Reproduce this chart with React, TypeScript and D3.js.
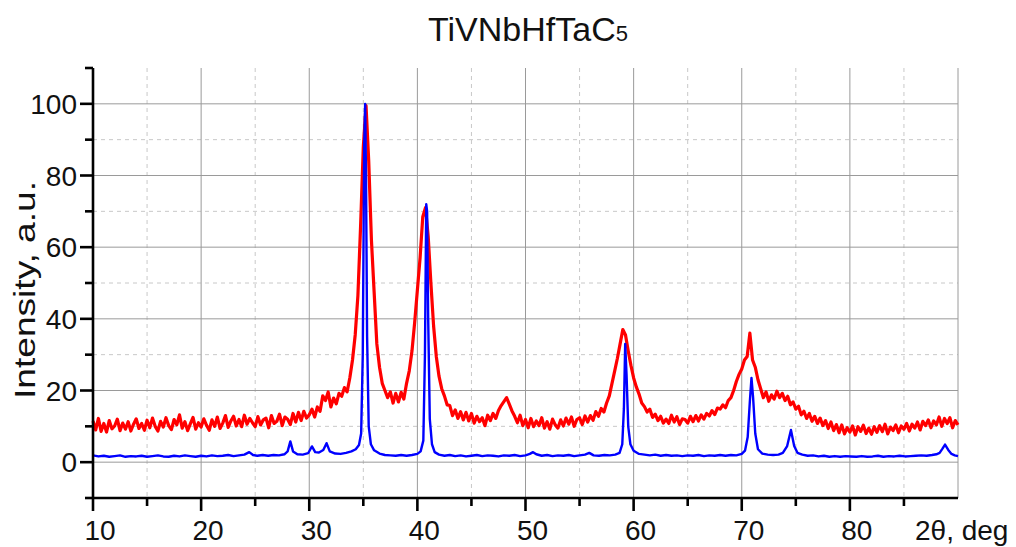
import React from 'react';
import * as d3 from 'd3';

const WIDTH = 1016;
const HEIGHT = 547;
const LEFT = 93;
const RIGHT = 958;
const TOP = 68;
const BOTTOM = 498;
const FONT = '"Liberation Sans", Arial, Helvetica, sans-serif';

const TITLE = 'TiVNbHfTaC';
const TITLE_SUB = '5';
const Y_LABEL = 'Intensity, a.u.';
const X_LABEL = '2θ, deg';

const xMajorTicks = [10, 20, 30, 40, 50, 60, 70, 80];
const xMinorTicks = [15, 25, 35, 45, 55, 65, 75, 85];
const yMajorTicks = [0, 20, 40, 60, 80, 100];
const yMinorTicks = [-10, 10, 30, 50, 70, 90, 110];

// red curve: sampled every 0.25 deg from 10 to 90
const redStart = 10;
const redStep = 0.25;
const redValues = [
  11.5, 9.0, 12.2, 8.6,
  10.8, 8.4, 11.6, 9.3,
  10.1, 12.0, 8.8, 10.9,
  9.2, 11.3, 8.7, 10.6,
  12.1, 9.4, 10.8, 8.9,
  11.7, 9.6, 12.3, 10.0,
  8.7, 11.4, 9.8, 12.4,
  10.2, 9.1, 11.9, 10.4,
  13.2, 9.5, 11.3, 8.8,
  10.7, 12.5, 9.2, 11.0,
  9.8, 12.1, 10.3, 8.9,
  11.8, 10.0, 12.6, 9.4,
  10.9, 13.0, 9.7, 11.5,
  12.8, 10.1, 11.9, 9.9,
  13.1, 10.6, 12.2, 11.0,
  9.9, 12.7, 10.4, 11.8,
  12.3, 9.6, 13.0, 10.8,
  11.4, 13.4, 10.2, 12.6,
  12.0, 10.5, 13.6, 11.2,
  13.9, 11.6, 14.2, 12.3,
  13.2, 14.8, 12.6, 15.4,
  14.2, 18.5, 17.2, 19.6,
  15.4, 17.9, 16.3, 19.2,
  18.4, 20.8, 19.6, 23.5,
  28.5, 35.5, 46.5, 66.0,
  88.0, 99.5, 84.0, 62.0,
  47.5, 33.0, 26.5, 22.0,
  20.0, 18.0, 19.6, 16.5,
  19.2, 16.8, 19.5, 17.6,
  22.0, 25.5, 31.0, 39.0,
  48.0, 57.0, 68.5, 71.0,
  63.0, 50.0, 38.0, 29.5,
  24.0, 20.5, 18.5, 16.0,
  15.8, 13.0, 14.6, 12.2,
  14.1, 11.8, 13.9, 11.5,
  13.6, 10.9, 12.8, 11.3,
  12.4, 10.2, 13.1, 11.6,
  13.6, 12.2, 14.4, 15.8,
  16.9, 18.0, 16.2, 14.3,
  12.8, 11.0, 13.1, 10.2,
  11.9, 9.6, 12.2, 9.9,
  11.5, 10.2, 12.4, 9.5,
  11.3, 9.2, 12.0, 10.4,
  9.5, 11.8, 10.1, 12.3,
  10.6, 12.6, 10.0, 11.9,
  12.4, 10.5, 12.9, 11.2,
  13.0, 11.7, 14.1, 12.8,
  15.0, 14.0, 16.5, 18.5,
  22.0, 25.5, 29.0, 33.0,
  37.0, 35.5, 31.0, 27.0,
  23.5, 21.0, 19.0, 16.5,
  15.5, 14.0, 14.8, 12.5,
  13.4, 11.6, 12.8, 10.9,
  12.0, 10.8, 13.1, 11.2,
  12.7, 10.5, 12.1, 11.9,
  10.9, 12.8, 11.3, 13.0,
  11.5, 13.2, 12.0, 13.6,
  12.9, 14.4, 13.3, 15.1,
  14.8, 16.0, 15.2, 17.2,
  18.0, 20.0, 22.5, 24.5,
  26.0, 28.5, 29.5, 36.0,
  28.5, 26.5, 23.0, 20.5,
  18.0, 19.6, 17.0, 18.8,
  17.6, 19.8, 18.0, 19.2,
  17.2, 18.4, 16.0, 16.8,
  14.8, 15.6, 13.2, 14.2,
  12.2, 13.6, 11.4, 12.8,
  10.8, 12.3, 10.2, 11.6,
  9.4, 11.2, 8.8, 10.5,
  8.2, 10.4, 7.9, 9.6,
  8.4, 10.1, 7.6, 9.9,
  8.6, 10.3, 8.0, 9.5,
  7.8, 9.9, 8.3, 10.2,
  8.5, 10.6, 7.9, 9.8,
  8.8, 10.4, 8.2, 10.1,
  9.2, 10.8, 8.7, 10.6,
  9.5, 11.2, 9.0, 11.4,
  10.2, 11.8, 9.6, 11.5,
  10.4, 12.6, 10.0, 12.2,
  10.8, 12.4, 9.6, 11.6,
  10.4,
];

// blue curve: [2theta, intensity]
const bluePoints: [number, number][] = [
  [10, 1.9], [10.5, 1.6], [11, 1.8], [11.5, 1.5], [12, 1.7], [12.5, 1.9], [13, 1.5], [13.5, 1.7],
  [14, 1.6], [14.5, 1.8], [15, 1.5], [15.5, 1.7], [16, 1.9], [16.5, 1.6], [17, 1.5], [17.5, 1.8],
  [18, 1.6], [18.5, 1.9], [19, 1.7], [19.5, 1.5], [20, 1.8], [20.5, 1.6], [21, 1.9], [21.5, 1.7],
  [22, 1.8], [22.5, 2.0], [23, 1.7], [23.5, 1.9], [24, 2.1], [24.45, 2.8], [24.8, 2.0], [25.2, 1.8],
  [25.7, 2.0], [26.2, 1.8], [26.7, 2.0], [27.2, 1.9], [27.7, 2.2], [28.0, 3.0], [28.25, 5.8], [28.5, 3.0],
  [28.9, 2.2], [29.4, 2.1], [29.9, 2.5], [30.25, 4.4], [30.55, 2.8], [30.9, 2.7], [31.3, 3.4], [31.6, 5.3],
  [31.9, 3.0], [32.4, 2.4], [32.9, 2.3], [33.4, 2.6], [33.9, 3.0], [34.3, 3.6], [34.6, 4.8], [34.8, 8],
  [34.95, 30], [35.08, 88], [35.17, 100], [35.25, 80], [35.35, 35], [35.5, 10], [35.7, 5], [36.0, 3.3],
  [36.5, 2.4], [37.0, 2.0], [37.5, 1.9], [38.0, 1.8], [38.5, 2.0], [39.0, 1.8], [39.5, 2.0], [40.0, 2.3],
  [40.3, 3.0], [40.55, 6], [40.7, 30], [40.82, 72], [40.9, 70], [41.0, 40], [41.15, 12], [41.35, 5],
  [41.6, 2.8], [42.0, 2.1], [42.5, 1.8], [43, 2.0], [43.5, 1.7], [44, 1.9], [44.5, 1.6], [45, 1.8],
  [45.5, 2.0], [46, 1.7], [46.5, 1.9], [47, 1.8], [47.5, 1.6], [48, 1.9], [48.5, 1.8], [49, 2.0],
  [49.5, 1.7], [50, 1.9], [50.4, 2.3], [50.7, 2.8], [51.0, 2.2], [51.5, 1.8], [52, 2.0], [52.5, 1.7],
  [53, 1.9], [53.5, 1.8], [54, 2.0], [54.5, 1.7], [55, 1.9], [55.5, 2.1], [55.9, 2.6], [56.3, 1.9],
  [56.8, 1.8], [57.3, 2.0], [57.8, 1.9], [58.3, 2.1], [58.7, 2.6], [58.95, 5], [59.1, 15], [59.22, 33],
  [59.35, 24], [59.5, 10], [59.7, 5], [60.0, 3.2], [60.5, 2.3], [61, 2.1], [61.5, 1.9], [62, 2.1],
  [62.5, 1.8], [63, 2.0], [63.5, 1.8], [64, 1.9], [64.5, 1.7], [65, 1.9], [65.5, 1.8], [66, 2.0],
  [66.5, 1.7], [67, 1.9], [67.5, 1.8], [68, 2.0], [68.5, 1.8], [69, 2.0], [69.5, 1.9], [70.0, 2.3],
  [70.3, 3.2], [70.55, 7], [70.75, 17], [70.9, 23.5], [71.05, 18], [71.25, 8], [71.5, 3.6], [71.9, 2.4],
  [72.4, 2.1], [72.9, 2.0], [73.4, 2.1], [73.8, 2.6], [74.2, 4.5], [74.55, 9.0], [74.85, 4.5], [75.15, 2.6],
  [75.6, 2.1], [76.1, 1.8], [76.6, 1.9], [77.1, 1.6], [77.6, 1.8], [78.1, 1.5], [78.6, 1.7], [79.1, 1.5],
  [79.6, 1.7], [80.1, 1.6], [80.6, 1.5], [81.1, 1.7], [81.6, 1.5], [82.1, 1.6], [82.6, 1.8], [83.1, 1.5],
  [83.6, 1.7], [84.1, 1.6], [84.6, 1.8], [85.1, 1.6], [85.6, 1.7], [86.1, 1.8], [86.6, 1.9], [87.1, 1.8],
  [87.6, 2.0], [88.0, 2.2], [88.3, 2.6], [88.55, 3.7], [88.8, 4.9], [89.1, 3.4], [89.4, 2.3], [89.7, 1.9],
  [90, 1.7],
];

const App = () => {
  const x = d3.scaleLinear().domain([10, 90]).range([LEFT, RIGHT]);
  const y = d3.scaleLinear().domain([-10, 110]).range([BOTTOM, TOP]);

  const redPoints: [number, number][] = redValues.map((v, i) => [redStart + i * redStep, v]);

  const line = d3.line<[number, number]>()
    .x(d => x(d[0]))
    .y(d => y(d[1]));

  return (
    <svg width={WIDTH} height={HEIGHT} style={{ position: 'absolute', left: 0, top: 0, background: '#fff' }}
      fontFamily={FONT}>
      {/* grid */}
      <g>
        {xMinorTicks.map(t => (
          <line key={'xm' + t} x1={x(t)} x2={x(t)} y1={TOP} y2={BOTTOM} stroke="#c8c8c8" strokeDasharray="4,4" />
        ))}
        {yMinorTicks.filter(t => t > -10 && t < 110).map(t => (
          <line key={'ym' + t} x1={LEFT} x2={RIGHT} y1={y(t)} y2={y(t)} stroke="#c8c8c8" strokeDasharray="4,4" />
        ))}
        {xMajorTicks.filter(t => t > 10).map(t => (
          <line key={'xg' + t} x1={x(t)} x2={x(t)} y1={TOP} y2={BOTTOM} stroke="#9a9a9a" />
        ))}
        {yMajorTicks.map(t => (
          <line key={'yg' + t} x1={LEFT} x2={RIGHT} y1={y(t)} y2={y(t)} stroke="#9a9a9a" />
        ))}
        <line x1={RIGHT} x2={RIGHT} y1={TOP} y2={BOTTOM} stroke="#9a9a9a" />
      </g>

      {/* data */}
      <path d={line(redPoints) || ''} fill="none" stroke="#ff0000" strokeWidth={3.2} strokeLinejoin="round" />
      <path d={line(bluePoints) || ''} fill="none" stroke="#0000ff" strokeWidth={2.4} strokeLinejoin="round" />

      {/* axes */}
      <g stroke="#000" strokeWidth={2.6}>
        <line x1={LEFT} x2={LEFT} y1={TOP} y2={BOTTOM + 1} />
        <line x1={LEFT - 1} x2={RIGHT} y1={BOTTOM} y2={BOTTOM} />
        {yMajorTicks.map(t => (
          <line key={'yt' + t} x1={LEFT - 13} x2={LEFT} y1={y(t)} y2={y(t)} />
        ))}
        {yMinorTicks.map(t => (
          <line key={'ytm' + t} x1={LEFT - 8} x2={LEFT} y1={y(t)} y2={y(t)} />
        ))}
        {xMajorTicks.map(t => (
          <line key={'xt' + t} x1={x(t)} x2={x(t)} y1={BOTTOM} y2={BOTTOM + 13} />
        ))}
        {xMinorTicks.map(t => (
          <line key={'xtm' + t} x1={x(t)} x2={x(t)} y1={BOTTOM} y2={BOTTOM + 8} />
        ))}
      </g>

      {/* tick labels */}
      <g fontSize={28} fill="#111">
        {yMajorTicks.map(t => (
          <text key={'yl' + t} x={LEFT - 16} y={y(t) + 10} textAnchor="end">{t}</text>
        ))}
        {xMajorTicks.map(t => (
          <text key={'xl' + t} x={x(t) + 7} y={540} textAnchor="middle">{t}</text>
        ))}
        <text x={915} y={540}>{X_LABEL}</text>
      </g>

      {/* axis title */}
      <text transform="translate(35, 290) rotate(-90)" textAnchor="middle" fontSize={30}
        textLength={218} lengthAdjust="spacingAndGlyphs" fill="#111">{Y_LABEL}</text>

      {/* chart title */}
      <text x={528} y={41} textAnchor="middle" fontSize={34} fill="#111">
        {TITLE}<tspan fontSize={22}>{TITLE_SUB}</tspan>
      </text>
    </svg>
  );
};

export default App;
